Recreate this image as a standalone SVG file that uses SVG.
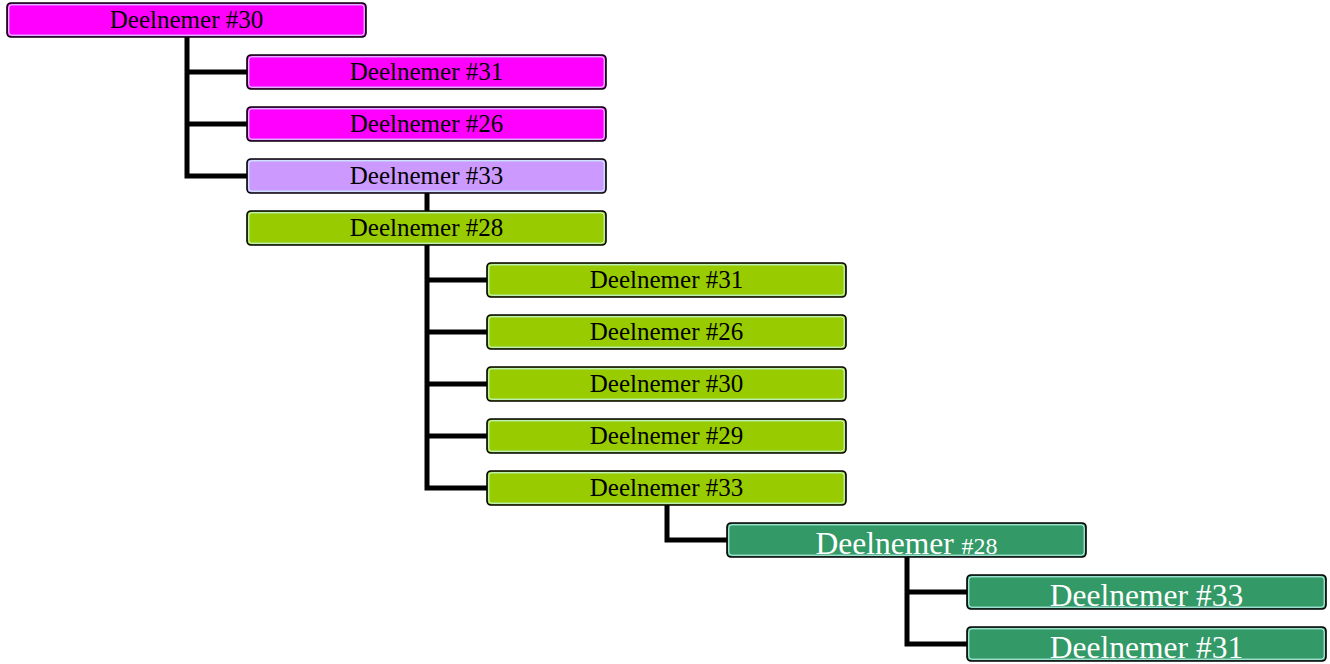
<svg xmlns="http://www.w3.org/2000/svg" width="1330" height="664" viewBox="0 0 1330 664">
  <style>
    .box { stroke: #000; stroke-width: 1.6; }
    .inner { fill: none; stroke: #ccffff; stroke-width: 1; }
    .m { fill: #ff00ff; }
    .p { fill: #cc99ff; }
    .g { fill: #99cc00; }
    .d { fill: #339966; }
    .lbl { font-family: "Liberation Serif", "Times New Roman", serif; font-size: 25px; fill: #000; text-anchor: middle; }
    .lbl-w { font-family: "Liberation Serif", "Times New Roman", serif; font-size: 31.5px; fill: #fff; text-anchor: middle; }
    .conn { fill: none; stroke: #000; stroke-width: 5; stroke-linejoin: miter; stroke-linecap: butt; }
  </style>
  <rect width="1330" height="664" fill="#fff"/>

  <!-- connectors -->
  <g id="connectors" class="conn">
    <path d="M187,37 V176 H247"/>
    <path d="M187,72 H247"/>
    <path d="M187,124 H247"/>
    <path d="M427,193 V211"/>
    <path d="M427,245 V488 H487"/>
    <path d="M427,280 H487"/>
    <path d="M427,332 H487"/>
    <path d="M427,384 H487"/>
    <path d="M427,436 H487"/>
    <path d="M667,505 V540 H727"/>
    <path d="M907,557 V644 H967"/>
    <path d="M907,592 H967"/>
  </g>

  <g id="n0">
    <rect class="box m" x="7" y="3" width="359" height="34" rx="4"/>
    <rect class="inner" x="8.8" y="4.8" width="355.4" height="30.4" rx="3"/>
    <text class="lbl" x="186.5" y="28">Deelnemer #30</text>
  </g>
  <g id="n1">
    <rect class="box m" x="247" y="55" width="359" height="34" rx="4"/>
    <rect class="inner" x="248.8" y="56.8" width="355.4" height="30.4" rx="3"/>
    <text class="lbl" x="426.5" y="80">Deelnemer #31</text>
  </g>
  <g id="n2">
    <rect class="box m" x="247" y="107" width="359" height="34" rx="4"/>
    <rect class="inner" x="248.8" y="108.8" width="355.4" height="30.4" rx="3"/>
    <text class="lbl" x="426.5" y="132">Deelnemer #26</text>
  </g>
  <g id="n3">
    <rect class="box p" x="247" y="159" width="359" height="34" rx="4"/>
    <rect class="inner" x="248.8" y="160.8" width="355.4" height="30.4" rx="3"/>
    <text class="lbl" x="426.5" y="184">Deelnemer #33</text>
  </g>
  <g id="n4">
    <rect class="box g" x="247" y="211" width="359" height="34" rx="4"/>
    <rect class="inner" x="248.8" y="212.8" width="355.4" height="30.4" rx="3"/>
    <text class="lbl" x="426.5" y="236">Deelnemer #28</text>
  </g>
  <g id="n5">
    <rect class="box g" x="487" y="263" width="359" height="34" rx="4"/>
    <rect class="inner" x="488.8" y="264.8" width="355.4" height="30.4" rx="3"/>
    <text class="lbl" x="666.5" y="288">Deelnemer #31</text>
  </g>
  <g id="n6">
    <rect class="box g" x="487" y="315" width="359" height="34" rx="4"/>
    <rect class="inner" x="488.8" y="316.8" width="355.4" height="30.4" rx="3"/>
    <text class="lbl" x="666.5" y="340">Deelnemer #26</text>
  </g>
  <g id="n7">
    <rect class="box g" x="487" y="367" width="359" height="34" rx="4"/>
    <rect class="inner" x="488.8" y="368.8" width="355.4" height="30.4" rx="3"/>
    <text class="lbl" x="666.5" y="392">Deelnemer #30</text>
  </g>
  <g id="n8">
    <rect class="box g" x="487" y="419" width="359" height="34" rx="4"/>
    <rect class="inner" x="488.8" y="420.8" width="355.4" height="30.4" rx="3"/>
    <text class="lbl" x="666.5" y="444">Deelnemer #29</text>
  </g>
  <g id="n9">
    <rect class="box g" x="487" y="471" width="359" height="34" rx="4"/>
    <rect class="inner" x="488.8" y="472.8" width="355.4" height="30.4" rx="3"/>
    <text class="lbl" x="666.5" y="496">Deelnemer #33</text>
  </g>
  <g id="n10">
    <rect class="box d" x="727" y="523" width="359" height="34" rx="4"/>
    <rect class="inner" x="728.8" y="524.8" width="355.4" height="30.4" rx="3"/>
    <text class="lbl-w" x="906.5" y="553.5">Deelnemer <tspan font-size="24">#28</tspan></text>
  </g>
  <g id="n11">
    <rect class="box d" x="967" y="575" width="359" height="34" rx="4"/>
    <rect class="inner" x="968.8" y="576.8" width="355.4" height="30.4" rx="3"/>
    <text class="lbl-w" x="1146.5" y="605.5">Deelnemer #33</text>
  </g>
  <g id="n12">
    <rect class="box d" x="967" y="627" width="359" height="34" rx="4"/>
    <rect class="inner" x="968.8" y="628.8" width="355.4" height="30.4" rx="3"/>
    <text class="lbl-w" x="1146.5" y="657.5">Deelnemer #31</text>
  </g>
</svg>
